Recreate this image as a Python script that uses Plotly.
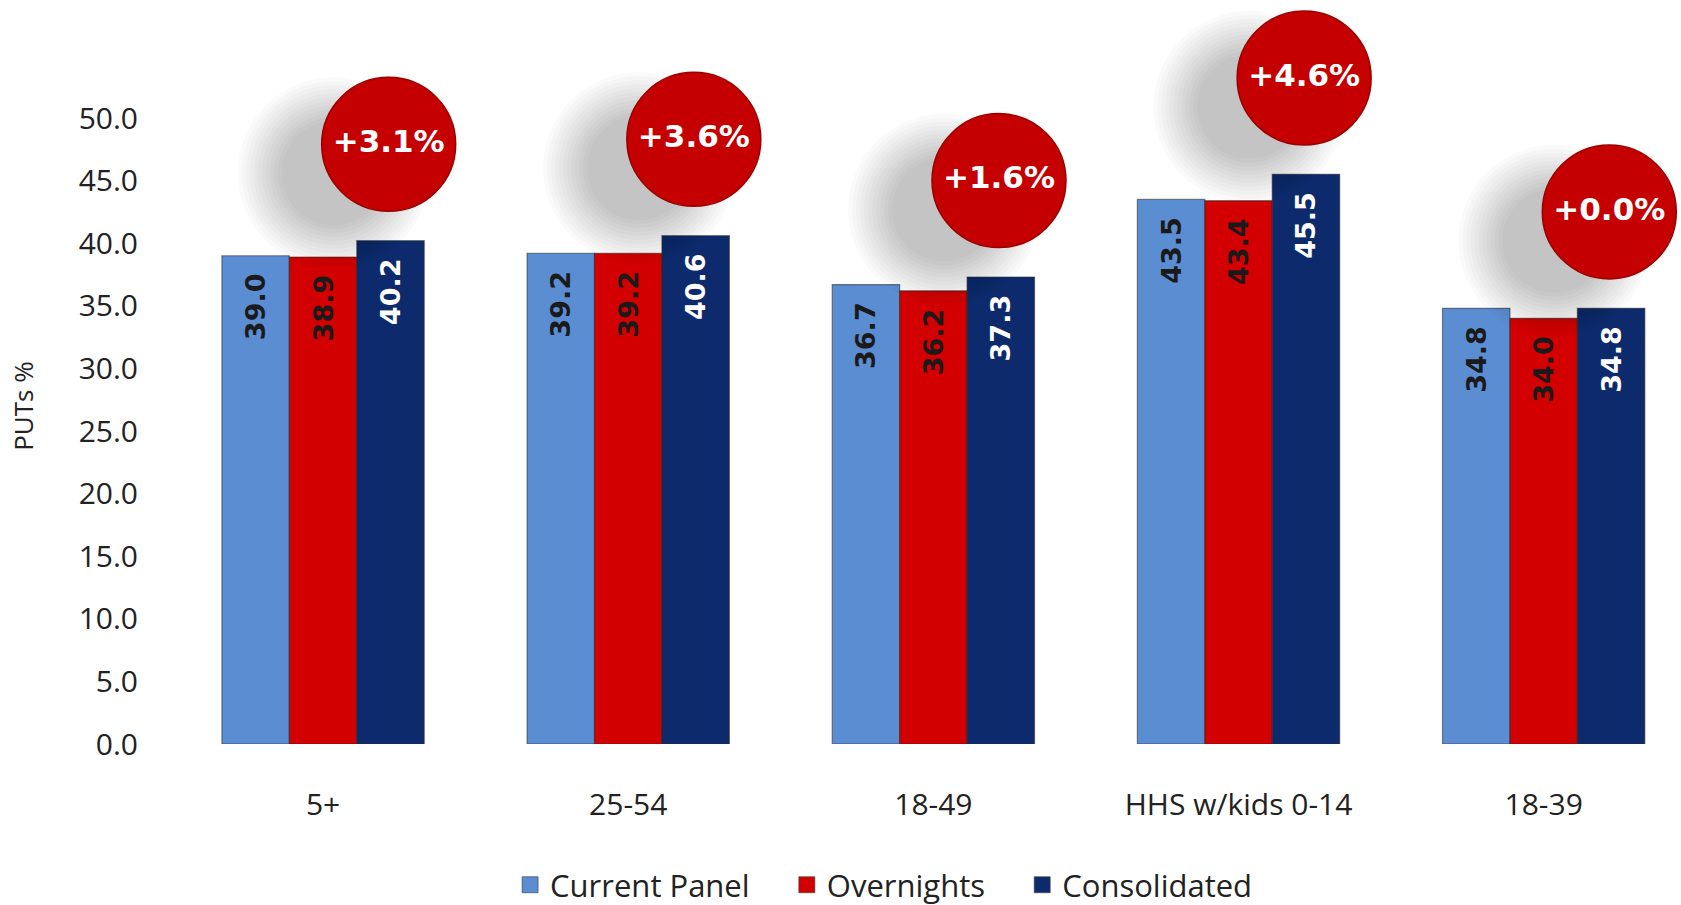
import plotly.graph_objects as go

categories = ["5+", "25-54", "18-49", "HHS w/kids 0-14", "18-39"]
current_panel = [39.0, 39.2, 36.7, 43.5, 34.8]
overnights = [38.9, 39.2, 36.2, 43.4, 34.0]
consolidated = [40.2, 40.6, 37.3, 45.5, 34.8]
uplift_pct = [3.1, 3.6, 1.6, 4.6, 0.0]
y_ticks = [0, 5, 10, 15, 20, 25, 30, 35, 40, 45, 50]

series = [
    ("Current Panel", current_panel, "#5B8DD3", "#1a1a1a"),
    ("Overnights", overnights, "#D20000", "#1a1a1a"),
    ("Consolidated", consolidated, "#0D2A6C", "#ffffff"),
]

fig = go.Figure()

pad = "\u00a0" * 4
for i, (name, vals, color, tcolor) in enumerate(series):
    fig.add_trace(go.Bar(
        x=categories, y=vals, name=name, showlegend=False,
        marker=dict(color=color, line=dict(color="rgba(40,40,40,0.55)", width=1.2)),
        text=[f"{v:.1f}\u00a0\u2009" for v in vals],
        textposition="inside", insidetextanchor="end", textangle=-90,
        textfont=dict(family="DejaVu Sans", size=27, color=tcolor, weight="bold"),
        hoverinfo="skip",
    ))
    # legend entry with a larger square symbol
    fig.add_trace(go.Scatter(
        x=[None], y=[None], mode="markers",
        name=name + (pad if i < len(series) - 1 else ""),
        marker=dict(symbol="square", size=16, color=color,
                    line=dict(color="rgba(60,60,60,0.6)", width=1)),
    ))

# offsets (styling) for the badge positions
badge_dx = 0.215
badge_dy = 7.7
shadow_dx = -0.18
shadow_dy = -2.3

cat_idx = list(range(len(categories)))
badge_x = [i + badge_dx for i in cat_idx]
badge_y = [v + badge_dy for v in consolidated]

# soft shadows
for s in range(192, 96, -8):
    fig.add_trace(go.Scatter(
        x=[bx + shadow_dx for bx in badge_x], y=[by + shadow_dy for by in badge_y],
        mode="markers", showlegend=False, hoverinfo="skip", cliponaxis=False,
        marker=dict(size=s, color="rgba(0,0,0,0.02)", line=dict(width=0)),
        xaxis="x2",
    ))

fig.add_trace(go.Scatter(
    x=badge_x, y=badge_y, mode="markers+text", showlegend=False, hoverinfo="skip",
    cliponaxis=False,
    marker=dict(size=134, color="#C40000", line=dict(color="#9a0000", width=1.5)),
    text=[f"+{p:.1f}%" for p in uplift_pct],
    textposition="middle center",
    textfont=dict(family="DejaVu Sans", size=31, color="white", weight="bold"),
    xaxis="x2",
))

x_range = [-0.518, 4.45]

fig.update_layout(
    width=1681, height=905,
    paper_bgcolor="white", plot_bgcolor="white",
    margin=dict(l=165, r=0, t=20, b=161),
    barmode="group", bargap=0.337, bargroupgap=0,
    font=dict(family="Open Sans", color="#222222"),
    xaxis=dict(range=x_range, showgrid=False, zeroline=False, showline=False,
               ticks="", tickfont=dict(size=30, color="#222222"),
               ticklabelstandoff=40, automargin=False),
    xaxis2=dict(range=x_range, overlaying="x", visible=False),
    yaxis=dict(range=[0, 57.83], tickvals=y_ticks, tickformat=".1f",
               showgrid=False, zeroline=False, showline=False, ticks="",
               tickfont=dict(size=30, color="#222222"), ticklabelstandoff=26,
               automargin=False),
    legend=dict(orientation="h", x=0.474, xanchor="center",
                yref="container", y=0.022, yanchor="middle",
                font=dict(size=31, color="#222222"), itemwidth=30,
                bgcolor="rgba(0,0,0,0)"),
    annotations=[dict(text="PUTs %", xref="paper", yref="paper", x=-0.0937, y=0.467,
                      xanchor="center", yanchor="middle", textangle=-90, showarrow=False,
                      font=dict(size=26, color="#222222"))],
)

fig.write_html("out.html")
